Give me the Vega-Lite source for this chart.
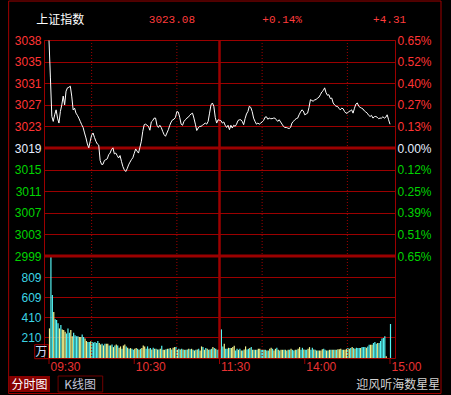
{
"$schema": "https://vega.github.io/schema/vega-lite/v6.json",
"width": 351, "height": 318,
"autosize": {"type": "none"},
"padding": {"left": 44, "top": 40, "right": 56, "bottom": 37},
"background": "#000000",
"config": {"view": {"stroke": "#9b0000", "strokeWidth": 1}, "axis": {"labelFont": "Liberation Sans", "labelFontSize": 12}},
"data": {"values": [
{"t":0,"p":3038.3,"v":296,"s":"S"},{"t":1,"p":3031.5,"v":1010,"s":"B"},{"t":2,"p":3024.5,"v":629,"s":"B"},{"t":3,"p":3023.6,"v":459,"s":"S"},{"t":4,"p":3024.8,"v":388,"s":"B"},{"t":5,"p":3025.7,"v":381,"s":"B"},{"t":6,"p":3024.2,"v":347,"s":"B"},{"t":7,"p":3023.3,"v":296,"s":"S"},{"t":8,"p":3025.4,"v":330,"s":"B"},{"t":9,"p":3026.6,"v":286,"s":"S"},
{"t":10,"p":3028.2,"v":279,"s":"S"},{"t":11,"p":3026.6,"v":262,"s":"S"},{"t":12,"p":3029.1,"v":245,"s":"B"},{"t":13,"p":3029.7,"v":296,"s":"B"},{"t":14,"p":3029.8,"v":252,"s":"B"},{"t":15,"p":3030.0,"v":279,"s":"S"},{"t":16,"p":3028.2,"v":218,"s":"S"},{"t":17,"p":3025.7,"v":252,"s":"B"},{"t":18,"p":3026.0,"v":228,"s":"B"},{"t":19,"p":3025.1,"v":218,"s":"B"},
{"t":20,"p":3024.7,"v":218,"s":"B"},{"t":21,"p":3024.2,"v":211,"s":"S"},{"t":22,"p":3023.6,"v":211,"s":"S"},{"t":23,"p":3023.0,"v":235,"s":"B"},{"t":24,"p":3022.5,"v":211,"s":"B"},{"t":25,"p":3021.5,"v":194,"s":"S"},{"t":26,"p":3020.6,"v":170,"s":"S"},{"t":27,"p":3019.5,"v":160,"s":"B"},{"t":28,"p":3018.8,"v":160,"s":"B"},{"t":29,"p":3020.0,"v":167,"s":"S"},
{"t":30,"p":3021.1,"v":160,"s":"B"},{"t":31,"p":3021.5,"v":153,"s":"B"},{"t":32,"p":3020.7,"v":160,"s":"B"},{"t":33,"p":3020.0,"v":150,"s":"B"},{"t":34,"p":3019.5,"v":170,"s":"B"},{"t":35,"p":3019.3,"v":150,"s":"S"},{"t":36,"p":3016.5,"v":136,"s":"S"},{"t":37,"p":3015.8,"v":143,"s":"B"},{"t":38,"p":3015.8,"v":126,"s":"S"},{"t":39,"p":3016.5,"v":143,"s":"B"},
{"t":40,"p":3016.65,"v":143,"s":"S"},{"t":41,"p":3016.8,"v":143,"s":"S"},{"t":42,"p":3017.55,"v":126,"s":"B"},{"t":43,"p":3017.85,"v":126,"s":"S"},{"t":44,"p":3018.5,"v":136,"s":"B"},{"t":45,"p":3018.8,"v":109,"s":"S"},{"t":46,"p":3017.7,"v":126,"s":"B"},{"t":47,"p":3017.85,"v":136,"s":"S"},{"t":48,"p":3017.4,"v":126,"s":"B"},{"t":49,"p":3016.95,"v":102,"s":"S"},
{"t":50,"p":3017.4,"v":116,"s":"S"},{"t":51,"p":3016.35,"v":92,"s":"B"},{"t":52,"p":3015.4,"v":126,"s":"S"},{"t":53,"p":3014.8,"v":136,"s":"S"},{"t":54,"p":3014.5,"v":116,"s":"B"},{"t":55,"p":3015.0,"v":102,"s":"S"},{"t":56,"p":3015.7,"v":92,"s":"B"},{"t":57,"p":3016.2,"v":99,"s":"S"},{"t":58,"p":3016.65,"v":92,"s":"B"},{"t":59,"p":3017.0,"v":82,"s":"B"},
{"t":60,"p":3017.8,"v":92,"s":"S"},{"t":61,"p":3018.6,"v":99,"s":"S"},{"t":62,"p":3018.2,"v":92,"s":"B"},{"t":63,"p":3017.85,"v":82,"s":"S"},{"t":64,"p":3018.9,"v":92,"s":"B"},{"t":65,"p":3020.0,"v":99,"s":"S"},{"t":66,"p":3021.8,"v":126,"s":"S"},{"t":67,"p":3023.0,"v":116,"s":"S"},{"t":68,"p":3023.1,"v":92,"s":"B"},{"t":69,"p":3022.9,"v":116,"s":"B"},
{"t":70,"p":3022.7,"v":92,"s":"S"},{"t":71,"p":3022.0,"v":99,"s":"B"},{"t":72,"p":3023.5,"v":85,"s":"S"},{"t":73,"p":3023.75,"v":102,"s":"B"},{"t":74,"p":3024.2,"v":92,"s":"S"},{"t":75,"p":3024.2,"v":92,"s":"B"},{"t":76,"p":3022.9,"v":85,"s":"S"},{"t":77,"p":3022.5,"v":85,"s":"B"},{"t":78,"p":3022.9,"v":92,"s":"S"},{"t":79,"p":3022.5,"v":122,"s":"B"},
{"t":80,"p":3021.8,"v":82,"s":"S"},{"t":81,"p":3021.2,"v":82,"s":"S"},{"t":82,"p":3020.9,"v":88,"s":"B"},{"t":83,"p":3021.5,"v":92,"s":"S"},{"t":84,"p":3022.1,"v":92,"s":"B"},{"t":85,"p":3022.9,"v":99,"s":"S"},{"t":86,"p":3023.5,"v":85,"s":"B"},{"t":87,"p":3023.9,"v":102,"s":"S"},{"t":88,"p":3024.0,"v":109,"s":"S"},{"t":89,"p":3024.35,"v":109,"s":"B"},
{"t":90,"p":3025.4,"v":82,"s":"S"},{"t":91,"p":3025.3,"v":92,"s":"B"},{"t":92,"p":3024.35,"v":85,"s":"S"},{"t":93,"p":3023.1,"v":92,"s":"B"},{"t":94,"p":3022.9,"v":85,"s":"S"},{"t":95,"p":3023.6,"v":82,"s":"B"},{"t":96,"p":3023.9,"v":82,"s":"S"},{"t":97,"p":3024.2,"v":85,"s":"B"},{"t":98,"p":3024.35,"v":92,"s":"S"},{"t":99,"p":3024.7,"v":88,"s":"B"},
{"t":100,"p":3024.95,"v":92,"s":"S"},{"t":101,"p":3025.1,"v":82,"s":"B"},{"t":102,"p":3024.2,"v":75,"s":"S"},{"t":103,"p":3023.1,"v":82,"s":"B"},{"t":104,"p":3021.95,"v":85,"s":"S"},{"t":105,"p":3022.4,"v":92,"s":"B"},{"t":106,"p":3022.7,"v":75,"s":"S"},{"t":107,"p":3022.7,"v":116,"s":"S"},{"t":108,"p":3022.9,"v":109,"s":"B"},{"t":109,"p":3023.1,"v":82,"s":"S"},
{"t":110,"p":3023.3,"v":99,"s":"B"},{"t":111,"p":3023.1,"v":92,"s":"S"},{"t":112,"p":3023.6,"v":82,"s":"B"},{"t":113,"p":3025.1,"v":85,"s":"S"},{"t":114,"p":3026.6,"v":92,"s":"B"},{"t":115,"p":3026.95,"v":109,"s":"S"},{"t":116,"p":3026.35,"v":99,"s":"B"},{"t":117,"p":3024.35,"v":92,"s":"S"},{"t":118,"p":3023.3,"v":82,"s":"B"},{"t":119,"p":3023.9,"v":85,"s":"S"},
{"t":120,"p":3023.8,"v":85,"s":"S"},{"t":121,"p":3023.75,"v":286,"s":"B"},{"t":122,"p":3023.3,"v":116,"s":"B"},{"t":123,"p":3023.5,"v":143,"s":"S"},{"t":124,"p":3022.9,"v":92,"s":"B"},{"t":125,"p":3022.5,"v":92,"s":"B"},{"t":126,"p":3022.9,"v":102,"s":"S"},{"t":127,"p":3022.1,"v":99,"s":"B"},{"t":128,"p":3022.9,"v":99,"s":"S"},{"t":129,"p":3022.4,"v":109,"s":"S"},
{"t":130,"p":3022.9,"v":122,"s":"S"},{"t":131,"p":3022.7,"v":75,"s":"B"},{"t":132,"p":3023.1,"v":92,"s":"B"},{"t":133,"p":3023.75,"v":82,"s":"S"},{"t":134,"p":3023.9,"v":92,"s":"B"},{"t":135,"p":3023.9,"v":75,"s":"S"},{"t":136,"p":3023.6,"v":75,"s":"B"},{"t":137,"p":3023.0,"v":85,"s":"S"},{"t":138,"p":3024.1,"v":116,"s":"S"},{"t":139,"p":3024.95,"v":85,"s":"B"},
{"t":140,"p":3025.4,"v":92,"s":"B"},{"t":141,"p":3026.35,"v":99,"s":"S"},{"t":142,"p":3026.15,"v":109,"s":"B"},{"t":143,"p":3025.4,"v":82,"s":"S"},{"t":144,"p":3024.2,"v":82,"s":"B"},{"t":145,"p":3023.6,"v":82,"s":"S"},{"t":146,"p":3023.1,"v":82,"s":"B"},{"t":147,"p":3023.3,"v":92,"s":"S"},{"t":148,"p":3023.1,"v":92,"s":"S"},{"t":149,"p":3023.3,"v":82,"s":"B"},
{"t":150,"p":3023.5,"v":82,"s":"B"},{"t":151,"p":3023.75,"v":82,"s":"S"},{"t":152,"p":3024.35,"v":82,"s":"B"},{"t":153,"p":3024.45,"v":75,"s":"S"},{"t":154,"p":3024.0,"v":75,"s":"B"},{"t":155,"p":3024.2,"v":92,"s":"S"},{"t":156,"p":3024.1,"v":102,"s":"S"},{"t":157,"p":3024.1,"v":92,"s":"B"},{"t":158,"p":3024.2,"v":75,"s":"S"},{"t":159,"p":3024.2,"v":92,"s":"S"},
{"t":160,"p":3023.9,"v":102,"s":"B"},{"t":161,"p":3023.6,"v":82,"s":"S"},{"t":162,"p":3023.9,"v":75,"s":"B"},{"t":163,"p":3023.5,"v":82,"s":"S"},{"t":164,"p":3023.1,"v":82,"s":"S"},{"t":165,"p":3022.7,"v":82,"s":"B"},{"t":166,"p":3022.5,"v":82,"s":"S"},{"t":167,"p":3022.5,"v":75,"s":"B"},{"t":168,"p":3022.4,"v":82,"s":"S"},{"t":169,"p":3022.3,"v":82,"s":"B"},
{"t":170,"p":3022.5,"v":92,"s":"S"},{"t":171,"p":3023.3,"v":82,"s":"B"},{"t":172,"p":3023.6,"v":75,"s":"B"},{"t":173,"p":3023.9,"v":82,"s":"S"},{"t":174,"p":3024.1,"v":82,"s":"B"},{"t":175,"p":3024.2,"v":92,"s":"S"},{"t":176,"p":3024.8,"v":109,"s":"S"},{"t":177,"p":3025.3,"v":82,"s":"B"},{"t":178,"p":3025.7,"v":102,"s":"B"},{"t":179,"p":3025.5,"v":85,"s":"S"},
{"t":180,"p":3024.8,"v":82,"s":"B"},{"t":181,"p":3024.95,"v":82,"s":"B"},{"t":182,"p":3025.1,"v":92,"s":"S"},{"t":183,"p":3026.15,"v":109,"s":"S"},{"t":184,"p":3027.55,"v":82,"s":"B"},{"t":185,"p":3027.4,"v":102,"s":"B"},{"t":186,"p":3027.25,"v":85,"s":"S"},{"t":187,"p":3027.55,"v":82,"s":"B"},{"t":188,"p":3027.55,"v":75,"s":"S"},{"t":189,"p":3027.85,"v":75,"s":"B"},
{"t":190,"p":3028.0,"v":75,"s":"S"},{"t":191,"p":3028.45,"v":75,"s":"S"},{"t":192,"p":3028.95,"v":88,"s":"S"},{"t":193,"p":3029.2,"v":92,"s":"B"},{"t":194,"p":3029.7,"v":82,"s":"B"},{"t":195,"p":3028.8,"v":75,"s":"S"},{"t":196,"p":3028.35,"v":75,"s":"B"},{"t":197,"p":3028.45,"v":82,"s":"S"},{"t":198,"p":3027.75,"v":82,"s":"B"},{"t":199,"p":3027.85,"v":82,"s":"S"},
{"t":200,"p":3026.95,"v":82,"s":"B"},{"t":201,"p":3026.6,"v":82,"s":"S"},{"t":202,"p":3026.35,"v":82,"s":"B"},{"t":203,"p":3026.35,"v":88,"s":"S"},{"t":204,"p":3026.0,"v":88,"s":"S"},{"t":205,"p":3025.7,"v":92,"s":"S"},{"t":206,"p":3026.0,"v":82,"s":"B"},{"t":207,"p":3025.9,"v":82,"s":"S"},{"t":208,"p":3025.4,"v":82,"s":"S"},{"t":209,"p":3025.1,"v":92,"s":"S"},
{"t":210,"p":3025.1,"v":99,"s":"B"},{"t":211,"p":3025.4,"v":92,"s":"S"},{"t":212,"p":3025.5,"v":99,"s":"B"},{"t":213,"p":3025.7,"v":109,"s":"S"},{"t":214,"p":3025.1,"v":99,"s":"B"},{"t":215,"p":3026.0,"v":92,"s":"S"},{"t":216,"p":3026.75,"v":102,"s":"B"},{"t":217,"p":3026.95,"v":99,"s":"B"},{"t":218,"p":3026.35,"v":99,"s":"B"},{"t":219,"p":3026.15,"v":99,"s":"S"},
{"t":220,"p":3026.0,"v":109,"s":"B"},{"t":221,"p":3025.85,"v":109,"s":"B"},{"t":222,"p":3025.5,"v":109,"s":"B"},{"t":223,"p":3025.3,"v":102,"s":"S"},{"t":224,"p":3025.1,"v":116,"s":"B"},{"t":225,"p":3024.7,"v":133,"s":"B"},{"t":226,"p":3024.5,"v":133,"s":"S"},{"t":227,"p":3024.7,"v":133,"s":"S"},{"t":228,"p":3024.2,"v":150,"s":"B"},{"t":229,"p":3024.45,"v":160,"s":"B"},
{"t":230,"p":3024.5,"v":143,"s":"B"},{"t":231,"p":3024.35,"v":150,"s":"S"},{"t":232,"p":3024.1,"v":150,"s":"B"},{"t":233,"p":3024.2,"v":170,"s":"B"},{"t":234,"p":3024.2,"v":194,"s":"B"},{"t":235,"p":3024.45,"v":200,"s":"B"},{"t":236,"p":3024.2,"v":218,"s":"B"},{"t":237,"p":3024.35,"v":17,"s":"S"},{"t":238,"p":3024.8,"v":0,"s":"B"},{"t":239,"p":3023.9,"v":0,"s":"B"},
{"t":240,"p":3023.08,"v":340,"s":"B"}
]},
"resolve": {"scale": {"y": "independent"}, "axis": {"y": "independent"}},
"layer": [
{"mark": {"type": "bar", "width": 1.2, "xOffset": 0.5},
 "encoding": {
  "x": {"field": "t", "type": "quantitative", "scale": {"domain": [0, 240], "nice": false, "zero": false},
   "axis": {"orient": "bottom", "values": [0, 60, 120, 180, 240], "title": null, "grid": true, "gridColor": "#9b0000", "domain": false, "ticks": false, "labels": false}},
  "y": {"field": "v", "type": "quantitative", "scale": {"domain": [0, 3180], "nice": false, "zero": true},
   "axis": {"orient": "left", "values": [210, 410, 609, 809], "title": null, "grid": true, "gridColor": "#9b0000", "domain": false, "ticks": false, "labelPadding": 3, "labelColor": "#3cd4e4", "labelFontSize": 12, "labelFlush": false, "labelOverlap": false}},
  "color": {"field": "s", "type": "nominal", "scale": {"domain": ["B", "S"], "range": ["#54f4f4", "#f4f48c"]}, "legend": null}}},
{"data": {"values": [{"t": 0, "time": "09:30"}, {"t": 60, "time": "10:30"}, {"t": 120, "time": "11:30"}, {"t": 180, "time": "14:00"}, {"t": 240, "time": "15:00"}]},
 "layer": [
  {"mark": {"type": "rule", "color": "#9b0000", "strokeWidth": 1},
   "encoding": {"x": {"field": "t", "type": "quantitative", "axis": null},
    "y": {"datum": 0, "type": "quantitative", "scale": {"domain": [0, 3180], "nice": false, "zero": false}, "axis": null}, "y2": {"datum": -60}}},
  {"mark": {"type": "text", "font": "Liberation Sans", "fontSize": 12, "color": "#e83232", "align": "left", "baseline": "middle", "dx": 1.5},
   "encoding": {"x": {"field": "t", "type": "quantitative", "axis": null},
    "y": {"datum": -88, "type": "quantitative", "scale": {"domain": [0, 3180], "nice": false, "zero": false}, "axis": null}, "text": {"field": "time"}}}
 ]},
{"data": {"values": [{}]}, "mark": {"type": "rect", "fill": "transparent", "stroke": "#a00000", "strokeWidth": 1},
 "encoding": {"x": {"datum": -28.4, "type": "quantitative", "axis": null}, "x2": {"datum": 275.9},
  "y": {"datum": 3045.47, "type": "quantitative", "scale": {"domain": [2980.62, 3038.39], "nice": false, "zero": false}, "axis": null}, "y2": {"datum": 2974.17}}},
{"data": {"values": [{"tab": "分时图"}]}, "mark": {"type": "rect", "fill": "#880000"},
 "encoding": {"x": {"datum": -28.0, "type": "quantitative", "axis": null}, "x2": {"datum": 0.7},
  "y": {"datum": 2977.35, "type": "quantitative", "scale": {"domain": [2980.62, 3038.39], "nice": false, "zero": false}, "axis": null}, "y2": {"datum": 2974.44}}},
{"data": {"values": [{"tab": "K线图"}]}, "mark": {"type": "rect", "fill": "#000000", "stroke": "#700000", "strokeWidth": 1},
 "encoding": {"x": {"datum": 6.4, "type": "quantitative", "axis": null}, "x2": {"datum": 37.8},
  "y": {"datum": 2977.35, "type": "quantitative", "scale": {"domain": [2980.62, 3038.39], "nice": false, "zero": false}, "axis": null}, "y2": {"datum": 2974.44}}},
{"data": {"values": [{"tab": "分时图"}]}, "mark": {"type": "text", "font": "Noto Sans CJK SC", "fontSize": 12, "color": "#ffffff", "align": "center", "baseline": "middle"},
 "encoding": {"x": {"datum": -13.7, "type": "quantitative", "axis": null},
  "y": {"datum": 2975.8, "type": "quantitative", "scale": {"domain": [2980.62, 3038.39], "nice": false, "zero": false}, "axis": null}, "text": {"field": "tab"}}},
{"data": {"values": [{"tab": "K线图"}]}, "mark": {"type": "text", "font": "Noto Sans CJK SC", "fontSize": 12, "color": "#c4c4d8", "align": "center", "baseline": "middle"},
 "encoding": {"x": {"datum": 21.9, "type": "quantitative", "axis": null},
  "y": {"datum": 2975.8, "type": "quantitative", "scale": {"domain": [2980.62, 3038.39], "nice": false, "zero": false}, "axis": null}, "text": {"field": "tab"}}},
{"data": {"values": [{"mark": "迎风听海数星星"}]}, "mark": {"type": "text", "font": "Noto Sans CJK SC", "fontSize": 12, "color": "#d2d2d2", "align": "center", "baseline": "middle"},
 "encoding": {"x": {"datum": 245.8, "type": "quantitative", "axis": null},
  "y": {"datum": 2975.75, "type": "quantitative", "scale": {"domain": [2980.62, 3038.39], "nice": false, "zero": false}, "axis": null}, "text": {"field": "mark"}}},
{"data": {"values": [{"t": 30}, {"t": 90}, {"t": 150}, {"t": 210}]}, "mark": {"type": "rule", "color": "#a00000", "strokeWidth": 1, "strokeDash": [1, 2]},
 "encoding": {"x": {"field": "t", "type": "quantitative", "axis": null}}},
{"data": {"values": [{"t": 120}]}, "mark": {"type": "rule", "color": "#9b0000", "strokeWidth": 2.5},
 "encoding": {"x": {"field": "t", "type": "quantitative", "axis": null}}},
{"data": {"values": [{"base": 3018.77}, {"base": 2999.15}]}, "mark": {"type": "rule", "color": "#9b0000", "strokeWidth": 3},
 "encoding": {"y": {"field": "base", "type": "quantitative", "scale": {"domain": [2980.62, 3038.39], "nice": false, "zero": false}, "axis": null}}},
{"data": {"values": [{"u": "万"}]}, "mark": {"type": "rect", "fill": "transparent", "stroke": "#a00000", "strokeWidth": 1},
 "encoding": {"x": {"datum": -10.05, "type": "quantitative", "axis": null}, "x2": {"datum": -0.34},
  "y": {"datum": 133, "type": "quantitative", "scale": {"domain": [0, 3180], "nice": false, "zero": false}, "axis": null}, "y2": {"datum": -7}}},
{"data": {"values": [{"u": "万"}]}, "mark": {"type": "text", "font": "Noto Sans CJK SC", "fontSize": 12, "color": "#c8e0ff", "align": "center", "baseline": "middle"},
 "encoding": {"x": {"datum": -5.4, "type": "quantitative", "axis": null},
  "y": {"datum": 63, "type": "quantitative", "scale": {"domain": [0, 3180], "nice": false, "zero": false}, "axis": null}, "text": {"field": "u"}}},
{"mark": {"type": "line", "color": "#ffffff", "strokeWidth": 1},
 "encoding": {
  "x": {"field": "t", "type": "quantitative", "axis": null},
  "y": {"field": "p", "type": "quantitative", "scale": {"domain": [2980.62, 3038.39], "nice": false, "zero": false},
   "axis": {"orient": "left", "values": [2999.15, 3003.07, 3007.0, 3010.92, 3014.85, 3018.77, 3022.69, 3026.62, 3030.54, 3034.47, 3038.39],
    "labelExpr": "datum.value > 3034 && datum.value < 3035 ? '3035' : format(datum.value, '.0f')",
    "title": null, "grid": true, "gridColor": "#9b0000", "domain": false, "ticks": false, "labelPadding": 3, "labelFontSize": 12, "labelFlush": false, "labelOverlap": false,
    "labelColor": {"condition": [{"test": "datum.value > 3019", "value": "#ff3434"}, {"test": "datum.value < 3018.5", "value": "#00d400"}], "value": "#e6eeff"}}}}},
{"mark": {"type": "line", "opacity": 0},
 "encoding": {
  "x": {"field": "t", "type": "quantitative", "axis": null},
  "y": {"field": "p", "type": "quantitative", "scale": {"domain": [2980.62, 3038.39], "nice": false, "zero": false},
   "axis": {"orient": "right", "values": [2999.15, 3003.07, 3007.0, 3010.92, 3014.85, 3018.77, 3022.69, 3026.62, 3030.54, 3034.47, 3038.39],
    "labelExpr": "['0.65%','0.51%','0.39%','0.25%','0.12%','0.00%','0.13%','0.27%','0.40%','0.52%','0.65%'][round((datum.value-3018.77)/3.924)+5]",
    "title": null, "grid": false, "domain": false, "ticks": false, "labelPadding": 2, "labelFontSize": 12, "labelFlush": false, "labelOverlap": false,
    "labelColor": {"condition": [{"test": "datum.value > 3019", "value": "#ff3434"}, {"test": "datum.value < 3018.5", "value": "#00d400"}], "value": "#e6eeff"}}}}},
{"data": {"values": [{"h": "上证指数"}]}, "mark": {"type": "text", "font": "Noto Sans CJK SC", "fontSize": 12, "color": "#ffffff", "align": "center", "baseline": "middle"},
 "encoding": {"x": {"datum": 8.0, "type": "quantitative", "axis": null},
  "y": {"datum": 3042.0, "type": "quantitative", "scale": {"domain": [2980.62, 3038.39], "nice": false, "zero": false}, "axis": null}, "text": {"field": "h"}}},
{"data": {"values": [{"h": "3023.08"}]}, "mark": {"type": "text", "font": "Liberation Mono", "fontSize": 11, "color": "#ff3c3c", "align": "center", "baseline": "middle"},
 "encoding": {"x": {"datum": 86.5, "type": "quantitative", "axis": null},
  "y": {"datum": 3042.0, "type": "quantitative", "scale": {"domain": [2980.62, 3038.39], "nice": false, "zero": false}, "axis": null}, "text": {"field": "h"}}},
{"data": {"values": [{"h": "+0.14%"}]}, "mark": {"type": "text", "font": "Liberation Mono", "fontSize": 11, "color": "#ff3c3c", "align": "center", "baseline": "middle"},
 "encoding": {"x": {"datum": 164.1, "type": "quantitative", "axis": null},
  "y": {"datum": 3042.0, "type": "quantitative", "scale": {"domain": [2980.62, 3038.39], "nice": false, "zero": false}, "axis": null}, "text": {"field": "h"}}},
{"data": {"values": [{"h": "+4.31"}]}, "mark": {"type": "text", "font": "Liberation Mono", "fontSize": 11, "color": "#ff3c3c", "align": "center", "baseline": "middle"},
 "encoding": {"x": {"datum": 239.7, "type": "quantitative", "axis": null},
  "y": {"datum": 3042.0, "type": "quantitative", "scale": {"domain": [2980.62, 3038.39], "nice": false, "zero": false}, "axis": null}, "text": {"field": "h"}}}
]
}
